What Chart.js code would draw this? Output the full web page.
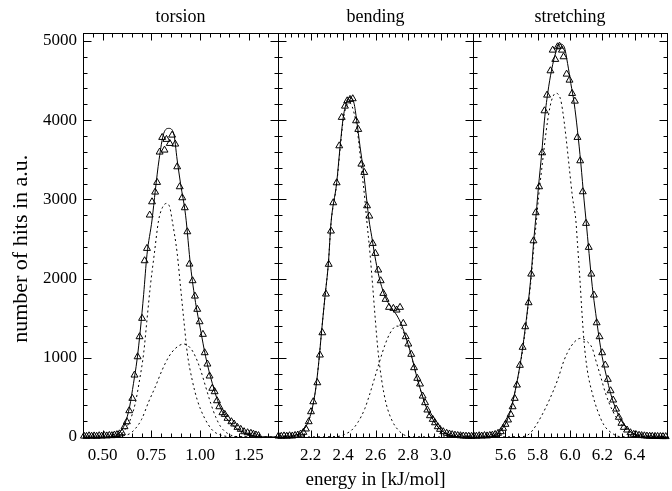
<!DOCTYPE html>
<html>
<head>
<meta charset="utf-8">
<title>Energy distributions</title>
<script src="https://cdn.jsdelivr.net/npm/chart.js@4"></script>
<style>
  html, body { margin: 0; padding: 0; background: #fff; }
  #wrap { position: relative; width: 672px; height: 491px; }
  #wrap canvas { position: absolute; left: 0; top: 0; }
</style>
</head>
<body>
<div id="wrap">
  <canvas id="torsionChart" width="672" height="491"></canvas>
  <canvas id="bendingChart" width="672" height="491"></canvas>
  <canvas id="stretchingChart" width="672" height="491"></canvas>
</div>
<script>
// ---- data: [energy, hits] ----
const yTicks = [0, 1000, 2000, 3000, 4000, 5000];

const torsionTicks = [0.5, 0.75, 1.0, 1.25];
const torsionHits = [
  [0.405, 12], [0.418, 8], [0.431, 15], [0.444, 10], [0.457, 14], [0.47, 9], [0.483, 16],
  [0.496, 12], [0.509, 18], [0.522, 14], [0.535, 20], [0.548, 17], [0.561, 25], [0.574, 30],
  [0.587, 40], [0.6, 54], [0.613, 130], [0.625, 193], [0.637, 332], [0.653, 488], [0.664, 782],
  [0.68, 1013], [0.69, 1266], [0.703, 1498], [0.716, 2225], [0.728, 2381], [0.742, 2802],
  [0.754, 2969], [0.77, 3092], [0.78, 3214], [0.793, 3597], [0.806, 3782], [0.818, 3622],
  [0.828, 3757], [0.845, 3706], [0.857, 3811], [0.873, 3698], [0.883, 3411], [0.896, 3159],
  [0.909, 3020], [0.922, 2894], [0.935, 2591], [0.946, 2183], [0.962, 1973], [0.974, 1779],
  [0.986, 1612], [0.998, 1455], [1.015, 1296], [1.024, 1064], [1.038, 921], [1.049, 770],
  [1.063, 615], [1.075, 572], [1.087, 458], [1.099, 382], [1.115, 307], [1.127, 286],
  [1.141, 236], [1.161, 193], [1.175, 164], [1.192, 122], [1.209, 97], [1.226, 67],
  [1.244, 54], [1.261, 47], [1.274, 36], [1.287, 26], [1.3, 18],
];
const torsionFit = [
  [0.4, 0], [0.5, 0], [0.556, 4], [0.591, 67], [0.616, 173], [0.639, 382], [0.659, 678],
  [0.677, 972], [0.694, 1350], [0.711, 1800], [0.728, 2300], [0.754, 2739], [0.771, 3117],
  [0.79, 3500], [0.814, 3833], [0.84, 3896], [0.865, 3833], [0.883, 3496], [0.9, 3202],
  [0.926, 2800], [0.952, 2150], [0.977, 1700], [1.003, 1350], [1.029, 1013], [1.063, 678],
  [1.106, 362], [1.158, 173], [1.226, 54], [1.278, 13], [1.32, 3], [1.4, 0],
];
const torsionPeakA = [
  [0.4, 0], [0.573, 5], [0.608, 67], [0.642, 215], [0.668, 425], [0.69, 719], [0.711, 1056],
  [0.728, 1477], [0.745, 1897], [0.766, 2318], [0.788, 2739], [0.808, 2900], [0.828, 2949],
  [0.845, 2900], [0.857, 2739], [0.883, 2318], [0.9, 1897], [0.917, 1477], [0.935, 1056],
  [0.96, 719], [0.986, 467], [1.02, 256], [1.063, 88], [1.106, 25], [1.158, 5], [1.4, 0],
];
const torsionPeakB = [
  [0.4, 0], [0.556, 5], [0.6, 12], [0.642, 45], [0.67, 110], [0.7, 220], [0.737, 446],
  [0.771, 635], [0.806, 846], [0.84, 1013], [0.874, 1119], [0.917, 1174], [0.952, 1119],
  [0.977, 1013], [1.003, 846], [1.029, 635], [1.055, 425], [1.08, 256], [1.106, 130],
  [1.141, 46], [1.192, 5], [1.4, 0],
];

const bendingTicks = [2.2, 2.4, 2.6, 2.8, 3.0];
const bendingHits = [
  [2.003, 12], [2.02, 9], [2.037, 14], [2.054, 10], [2.071, 16], [2.088, 13], [2.105, 20],
  [2.122, 25], [2.139, 38], [2.156, 59], [2.172, 101], [2.189, 193], [2.203, 319], [2.217, 445],
  [2.242, 685], [2.258, 1035], [2.273, 1316], [2.295, 1805], [2.312, 2180], [2.326, 2600],
  [2.34, 2957], [2.361, 3209], [2.377, 3676], [2.392, 4035], [2.412, 4177], [2.426, 4244],
  [2.443, 4262], [2.46, 4270], [2.48, 3992], [2.494, 3883], [2.513, 3445], [2.531, 3340],
  [2.548, 2919], [2.562, 2789], [2.583, 2444], [2.599, 2318], [2.617, 2108], [2.632, 1973],
  [2.648, 1813], [2.662, 1738], [2.683, 1637], [2.71, 1624], [2.73, 1603], [2.751, 1637],
  [2.771, 1435], [2.786, 1266], [2.802, 1174], [2.82, 1044], [2.837, 875], [2.857, 741],
  [2.874, 669], [2.89, 517], [2.905, 433], [2.919, 341], [2.935, 269], [2.952, 223],
  [2.966, 180], [2.983, 130], [2.997, 97], [3.017, 67], [3.038, 47], [3.055, 38], [3.072, 30],
  [3.089, 24], [3.106, 19], [3.123, 16], [3.14, 13], [3.157, 11], [3.174, 10], [3.191, 9],
];
const bendingFit = [
  [2.0, 0], [2.06, 3], [2.094, 13], [2.156, 88], [2.197, 256], [2.228, 551], [2.248, 887],
  [2.269, 1350], [2.289, 1771], [2.31, 2192], [2.326, 2700], [2.361, 3209], [2.382, 3664],
  [2.402, 4042], [2.423, 4231], [2.443, 4287], [2.468, 4211], [2.484, 4000], [2.505, 3664],
  [2.525, 3370], [2.546, 2991], [2.56, 2739], [2.577, 2528], [2.597, 2275], [2.617, 2066],
  [2.638, 1897], [2.669, 1729], [2.7, 1624], [2.73, 1540], [2.761, 1413], [2.792, 1224],
  [2.823, 1013], [2.854, 761], [2.884, 551], [2.915, 362], [2.956, 215], [2.997, 97],
  [3.058, 25], [3.12, 3], [3.2, 0],
];
const bendingPeakA = [
  [2.0, 0], [2.094, 13], [2.156, 88], [2.197, 256], [2.228, 551], [2.248, 887], [2.269, 1350],
  [2.289, 1771], [2.31, 2190], [2.326, 2690], [2.361, 3190], [2.382, 3630], [2.402, 4010],
  [2.423, 4185], [2.443, 4215], [2.468, 4090], [2.488, 3874], [2.515, 3370], [2.535, 2991],
  [2.546, 2739], [2.566, 2318], [2.583, 1897], [2.599, 1477], [2.617, 1056], [2.638, 719],
  [2.665, 425], [2.7, 215], [2.74, 88], [2.792, 13], [2.85, 2], [3.2, 0],
];
const bendingPeakB = [
  [2.0, 0], [2.36, 5], [2.423, 46], [2.454, 88], [2.494, 193], [2.535, 362], [2.566, 551],
  [2.597, 761], [2.628, 972], [2.658, 1161], [2.689, 1309], [2.73, 1400], [2.761, 1370],
  [2.792, 1220], [2.823, 1005], [2.854, 755], [2.884, 545], [2.915, 358], [2.956, 212],
  [2.997, 95], [3.058, 24], [3.12, 3], [3.2, 0],
];

const stretchingTicks = [5.6, 5.8, 6.0, 6.2, 6.4];
const stretchingHits = [
  [5.405, 14], [5.421, 10], [5.438, 16], [5.454, 12], [5.471, 18], [5.487, 14], [5.504, 20],
  [5.52, 24], [5.537, 32], [5.555, 47], [5.572, 67], [5.586, 110], [5.601, 160], [5.617, 215],
  [5.633, 286], [5.645, 382], [5.658, 488], [5.672, 656], [5.69, 905], [5.707, 1132],
  [5.723, 1392], [5.744, 1695], [5.76, 2057], [5.774, 2477], [5.788, 2831], [5.809, 3159],
  [5.828, 3588], [5.842, 4118], [5.858, 4316], [5.879, 4623], [5.893, 4884], [5.909, 4767],
  [5.923, 4926], [5.935, 4934], [5.95, 4884], [5.96, 4800], [5.979, 4581], [5.997, 4505],
  [6.013, 4337], [6.03, 4240], [6.046, 3782], [6.063, 3487], [6.079, 3096], [6.099, 2697],
  [6.116, 2394], [6.132, 2057], [6.148, 1792], [6.165, 1442], [6.183, 1266], [6.199, 1064],
  [6.218, 909], [6.234, 728], [6.251, 584], [6.267, 467], [6.285, 353], [6.302, 249],
  [6.318, 173], [6.333, 122], [6.353, 88], [6.374, 54], [6.394, 34], [6.41, 28], [6.427, 22],
  [6.443, 18], [6.46, 15], [6.476, 12], [6.493, 10], [6.509, 9], [6.526, 8], [6.542, 7],
  [6.559, 6], [6.575, 5], [6.592, 5],
];
const stretchingFit = [
  [5.4, 0], [5.494, 4], [5.555, 47], [5.596, 151], [5.627, 299], [5.653, 509], [5.678, 761],
  [5.699, 1013], [5.719, 1309], [5.739, 1644], [5.76, 2066], [5.776, 2486], [5.791, 2823],
  [5.805, 3159], [5.825, 3580], [5.842, 4000], [5.862, 4337], [5.886, 4632], [5.913, 4862],
  [5.94, 4960], [5.964, 4926], [5.985, 4716], [6.005, 4464], [6.026, 4211], [6.046, 3874],
  [6.067, 3454], [6.087, 2991], [6.099, 2739], [6.118, 2318], [6.138, 1897], [6.159, 1561],
  [6.179, 1266], [6.199, 1013], [6.226, 761], [6.251, 551], [6.282, 362], [6.322, 193],
  [6.374, 67], [6.435, 13], [6.5, 2], [6.6, 0],
];
const stretchingPeakA = [
  [5.4, 0], [5.494, 4], [5.555, 45], [5.596, 150], [5.627, 297], [5.653, 505], [5.678, 750],
  [5.699, 990], [5.719, 1280], [5.739, 1620], [5.76, 2010], [5.776, 2400], [5.791, 2700],
  [5.805, 3020], [5.825, 3380], [5.846, 3750], [5.862, 4000], [5.886, 4250], [5.913, 4340],
  [5.94, 4274], [5.954, 4127], [5.975, 3790], [5.995, 3411], [6.015, 3033], [6.036, 2739],
  [6.046, 2450], [6.061, 2000], [6.073, 1600], [6.087, 1200], [6.107, 846], [6.138, 551],
  [6.169, 341], [6.21, 151], [6.261, 47], [6.31, 5], [6.6, 0],
];
const stretchingPeakB = [
  [5.4, 0], [5.7, 5], [5.739, 25], [5.77, 88], [5.821, 256], [5.872, 467], [5.923, 719],
  [5.964, 972], [6.005, 1140], [6.046, 1233], [6.067, 1245], [6.107, 1203], [6.138, 1119],
  [6.159, 972], [6.19, 761], [6.22, 551], [6.261, 341], [6.312, 173], [6.363, 67],
  [6.435, 13], [6.5, 2], [6.6, 0],
];

Chart.defaults.font.family = "'Liberation Serif', 'Times New Roman', serif";
Chart.defaults.font.size = 17;
Chart.defaults.color = "#000";

// frame box plus inward major/minor tick marks on all four sides
const frameTicks = {
  id: "frameTicks",
  afterDatasetsDraw(chart, args, opts) {
    const { ctx, chartArea: a } = chart;
    const xs = chart.scales.x;
    const ys = chart.scales.y;
    const L = Math.round(a.left) + 0.5;
    const R = Math.round(a.right) + 0.5;
    const T = Math.round(a.top) + 0.5;
    const B = Math.round(a.bottom) + 0.5;
    ctx.save();
    ctx.strokeStyle = "#000";
    ctx.lineWidth = 1;
    ctx.strokeRect(L, T, R - L, B - T);
    ctx.beginPath();
    const isMajor = (v, m) => Math.abs(v / m - Math.round(v / m)) < 1e-6;
    let k = Math.ceil(xs.min / opts.xMinor - 1e-6);
    for (; k * opts.xMinor <= xs.max + 1e-9; k++) {
      const v = k * opts.xMinor;
      const len = isMajor(v, opts.xMajor) ? 7 : 4;
      const px = Math.round(xs.getPixelForValue(v)) + 0.5;
      ctx.moveTo(px, B);
      ctx.lineTo(px, B - len);
      ctx.moveTo(px, T);
      ctx.lineTo(px, T + len);
    }
    for (let v = 0; v <= ys.max; v += opts.yMinor) {
      const len = isMajor(v, opts.yMajor) ? 8 : 4;
      const py = Math.round(ys.getPixelForValue(v)) + 0.5;
      ctx.moveTo(L, py);
      ctx.lineTo(L + len, py);
      ctx.moveTo(R, py);
      ctx.lineTo(R - len, py);
    }
    ctx.stroke();
    ctx.restore();
  },
};

function makePanel(id, p) {
  const toXY = (arr) => arr.map(([x, y]) => ({ x, y }));
  const dotted = {
    showLine: true,
    borderColor: "#000",
    borderWidth: 1,
    borderDash: [2, 3],
    pointRadius: 0,
    cubicInterpolationMode: "monotone",
  };
  return new Chart(document.getElementById(id), {
    type: "scatter",
    data: {
      datasets: [
        { ...dotted, data: toXY(p.peakA) },
        { ...dotted, data: toXY(p.peakB) },
        {
          data: toXY(p.fit),
          showLine: true,
          borderColor: "#000",
          borderWidth: 1,
          pointRadius: 0,
          cubicInterpolationMode: "monotone",
        },
        {
          data: toXY(p.hits),
          showLine: false,
          pointStyle: "triangle",
          pointRadius: 4,
          pointBorderWidth: 1,
          borderColor: "#000",
          backgroundColor: "rgba(0,0,0,0)",
          clip: false,
        },
      ],
    },
    options: {
      responsive: false,
      animation: false,
      events: [],
      layout: { padding: { left: p.padLeft, right: p.padRight, top: 0, bottom: 0 } },
      plugins: {
        legend: { display: false },
        tooltip: { enabled: false },
        frameTicks: { xMinor: p.minor, xMajor: p.major, yMinor: 200, yMajor: 1000 },
      },
      scales: {
        x: {
          type: "linear",
          position: "bottom",
          min: p.xMin,
          max: p.xMax,
          grid: { display: false, drawTicks: false },
          border: { display: false },
          afterBuildTicks: (s) => {
            s.ticks = p.ticks.map((v) => ({ value: v }));
          },
          ticks: {
            padding: 8,
            autoSkip: false,
            maxRotation: 0,
            callback: (v) => Number(v).toFixed(p.decimals),
          },
          title: {
            display: !!p.xTitle,
            text: p.xTitle || "",
            padding: 0,
            font: { size: 19 },
          },
          afterFit: (s) => {
            s.height = 54;
          },
        },
        xTop: {
          type: "linear",
          axis: "x",
          position: "top",
          min: p.xMin,
          max: p.xMax,
          grid: { display: false, drawTicks: false },
          border: { display: false },
          ticks: { display: false },
          title: {
            display: true,
            text: p.title,
            padding: { top: 6, bottom: 0 },
            font: { size: 18 },
          },
          afterFit: (s) => {
            s.height = 33;
          },
        },
        y: {
          type: "linear",
          display: p.showY,
          min: 0,
          max: 5100,
          grid: { display: false, drawTicks: false },
          border: { display: false },
          afterBuildTicks: (s) => {
            s.ticks = yTicks.map((v) => ({ value: v }));
          },
          ticks: { padding: 6, callback: (v) => String(v) },
          title: {
            display: true,
            // trailing spaces nudge the rotated label a little lower, as in the original
            text: "number of hits in a.u.     ",
            padding: { top: 8, bottom: 0 },
            font: { size: 22 },
          },
          afterFit: (s) => {
            s.width = p.showY ? 83 : 0;
          },
        },
      },
    },
    plugins: [frameTicks],
  });
}

makePanel("torsionChart", {
  title: "torsion",
  hits: torsionHits, fit: torsionFit, peakA: torsionPeakA, peakB: torsionPeakB,
  ticks: torsionTicks, decimals: 2, major: 0.25, minor: 0.05,
  xMin: 0.4, xMax: 1.4, padLeft: 0, padRight: 394, showY: true,
});
makePanel("bendingChart", {
  title: "bending",
  hits: bendingHits, fit: bendingFit, peakA: bendingPeakA, peakB: bendingPeakB,
  ticks: bendingTicks, decimals: 1, major: 0.2, minor: 0.04,
  xMin: 2.0, xMax: 3.2, padLeft: 278, padRight: 199, showY: false,
  xTitle: "energy in [kJ/mol]",
});
makePanel("stretchingChart", {
  title: "stretching",
  hits: stretchingHits, fit: stretchingFit, peakA: stretchingPeakA, peakB: stretchingPeakB,
  ticks: stretchingTicks, decimals: 1, major: 0.2, minor: 0.04,
  xMin: 5.4, xMax: 6.6, padLeft: 473, padRight: 3, showY: false,
});
</script>
</body>
</html>
